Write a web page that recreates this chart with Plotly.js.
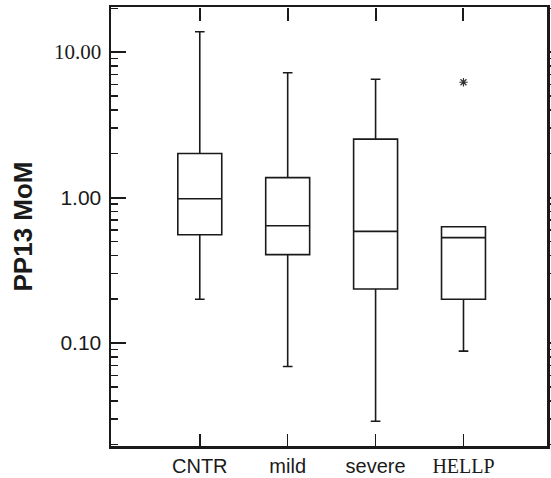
<!DOCTYPE html>
<html>
<head>
<meta charset="utf-8">
<script src="https://cdn.plot.ly/plotly-3.0.1.min.js"></script>
<style>
html,body{margin:0;padding:0;background:#fff;}
#chart{width:551px;height:478px;}
</style>
</head>
<body>
<div id="chart"></div>
<script>
// Data (PP13 MoM, log scale)
const categories = ['CNTR', 'mild', 'severe', 'HELLP'];
const lowerWhisker = [0.20, 0.069, 0.029, 0.088];
const q1Values     = [0.555, 0.405, 0.235, 0.20];
const medianValues = [0.98, 0.64, 0.585, 0.53];
const q3Values     = [2.01, 1.37, 2.52, 0.63];
const upperWhisker = [13.8, 7.2, 6.5, 0.63];
const outlierCategories = ['HELLP'];
const outlierValues = [6.2];
const yTickValues = [0.1, 1, 10];
const yTickLabels = ['0.10', '1.00', '10.00'];
const serifLabels = ['10.00', 'HELLP'];

function styleLabel(t) {
  return serifLabels.includes(t)
    ? '<span style="font-family:Liberation Serif">' + t + '</span>'
    : t;
}

const yRange = [Math.log10(0.0196), Math.log10(20.4)];
const xRange = [-1.01, 3.95];
const ink = '#1a1a1a';

const boxTrace = {
  type: 'box',
  x: categories,
  q1: q1Values,
  median: medianValues,
  q3: q3Values,
  lowerfence: lowerWhisker,
  upperfence: upperWhisker,
  width: 0.5,
  whiskerwidth: 0.22,
  fillcolor: 'rgba(255,255,255,0)',
  line: {color: ink, width: 1.6},
  boxpoints: false,
  hoverinfo: 'skip',
  showlegend: false
};

const outlierTrace = {
  type: 'scatter',
  mode: 'markers',
  x: outlierCategories,
  y: outlierValues,
  xaxis: 'x2',
  yaxis: 'y2',
  marker: {symbol: 'asterisk-open', size: 7, color: '#333', line: {color: '#333', width: 1.2}},
  hoverinfo: 'skip',
  showlegend: false
};

const minorTicks = {ticks: 'inside', ticklen: 7, tickwidth: 1.5, tickcolor: ink, dtick: 'D1', showgrid: false};
const minorTicksRight = {ticks: 'outside', ticklen: 7, tickwidth: 1.5, tickcolor: ink, dtick: 'D1', showgrid: false};

const layout = {
  width: 551,
  height: 478,
  margin: {l: 111, r: 4, t: 7, b: 32},
  paper_bgcolor: '#fff',
  plot_bgcolor: '#fff',
  font: {family: 'Liberation Sans, Arial, sans-serif', color: ink, size: 20},
  showlegend: false,
  xaxis: {
    type: 'category',
    categoryorder: 'array',
    categoryarray: categories,
    range: xRange,
    tickvals: categories,
    ticktext: categories.map(styleLabel),
    ticks: 'inside',
    ticklen: 12,
    tickwidth: 1.5,
    tickcolor: ink,
    showline: true,
    linecolor: ink,
    linewidth: 2.5,
    mirror: true,
    showgrid: false,
    zeroline: false,
    tickfont: {size: 20},
    ticklabelstandoff: 0
  },
  xaxis2: {
    type: 'category',
    overlaying: 'x',
    anchor: 'free',
    position: 1,
    side: 'top',
    categoryorder: 'array',
    categoryarray: categories,
    range: xRange,
    tickvals: categories,
    showticklabels: false,
    ticks: 'inside',
    ticklen: 13,
    tickwidth: 2,
    tickcolor: ink,
    showline: false,
    showgrid: false,
    zeroline: false
  },
  yaxis: {
    type: 'log',
    range: yRange,
    tickvals: yTickValues,
    ticktext: yTickLabels.map(styleLabel),
    ticks: 'inside',
    ticklen: 15,
    tickwidth: 2,
    tickcolor: ink,
    minor: minorTicks,
    showline: true,
    linecolor: ink,
    linewidth: 2.5,
    mirror: true,
    showgrid: false,
    zeroline: false,
    tickfont: {size: 21},
    ticklabelstandoff: 3,
    title: {text: '<b>PP13 MoM</b>', font: {size: 26, color: ink}, standoff: 14}
  },
  yaxis2: {
    type: 'log',
    overlaying: 'y',
    side: 'right',
    anchor: 'x2',
    range: yRange,
    tickvals: yTickValues,
    showticklabels: false,
    ticks: 'outside',
    ticklen: 12,
    tickwidth: 2,
    tickcolor: ink,
    minor: minorTicksRight,
    showline: false,
    showgrid: false,
    zeroline: false
  }
};

Plotly.newPlot('chart', [boxTrace, outlierTrace], layout, {displayModeBar: false, staticPlot: true});
</script>
</body>
</html>
